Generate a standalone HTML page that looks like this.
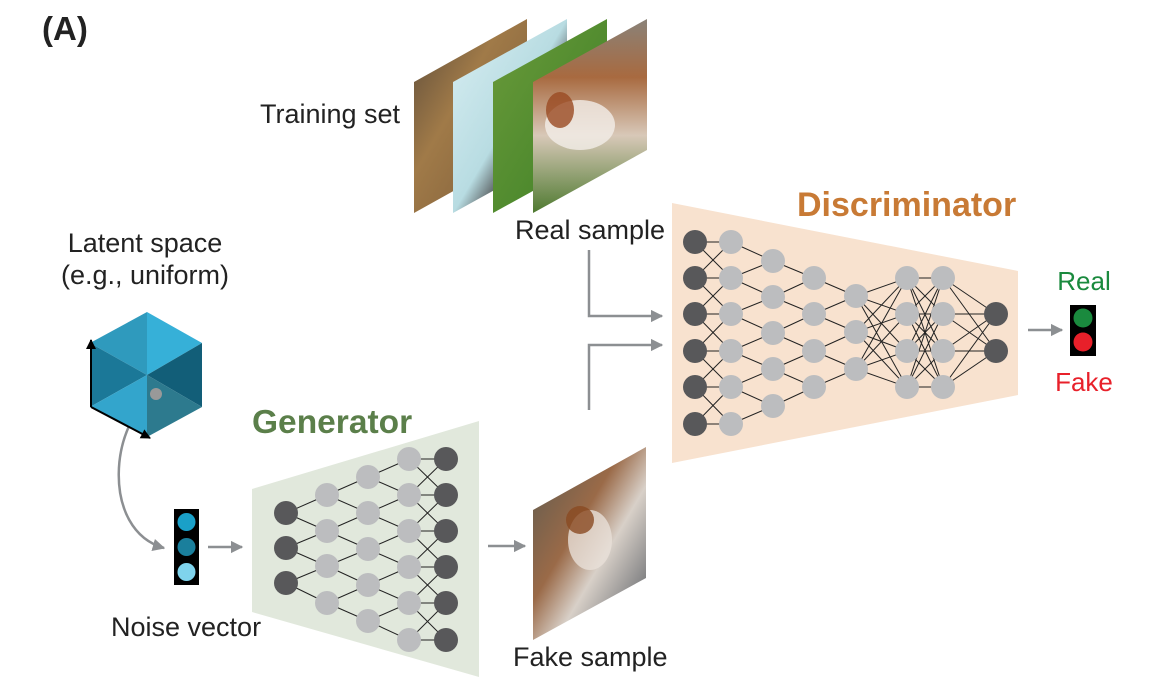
<!DOCTYPE html>
<html><head><meta charset="utf-8"><style>
html,body{margin:0;padding:0;background:#fff;width:1156px;height:689px;overflow:hidden}
svg{display:block}
text{font-family:"Liberation Sans",Arial,sans-serif}
</style></head><body>
<svg id="s" width="1156" height="689" viewBox="0 0 1156 689" xmlns="http://www.w3.org/2000/svg">
<defs>
<linearGradient id="g1" x1="0" y1="0" x2="1" y2="1"><stop offset="0" stop-color="#5a4a3a"/><stop offset="0.4" stop-color="#a07a48"/><stop offset="1" stop-color="#7a5a38"/></linearGradient>
<linearGradient id="g2" x1="0" y1="0" x2="1" y2="1"><stop offset="0" stop-color="#d8eef2"/><stop offset="0.5" stop-color="#b8dce2"/><stop offset="0.7" stop-color="#2a2020"/><stop offset="1" stop-color="#e8e4dc"/></linearGradient>
<linearGradient id="g3" x1="0" y1="0" x2="1" y2="1"><stop offset="0" stop-color="#6a9a3a"/><stop offset="0.6" stop-color="#4f8a2e"/><stop offset="1" stop-color="#3e7026"/></linearGradient>
<linearGradient id="g4" x1="0" y1="0" x2="0" y2="1"><stop offset="0" stop-color="#8a8278"/><stop offset="0.3" stop-color="#a86a40"/><stop offset="0.6" stop-color="#d8c8b8"/><stop offset="1" stop-color="#4e7a30"/></linearGradient>
<linearGradient id="g5" x1="0" y1="0" x2="1" y2="1"><stop offset="0" stop-color="#5a5a50"/><stop offset="0.4" stop-color="#9a6a48"/><stop offset="0.6" stop-color="#d8d0c8"/><stop offset="1" stop-color="#4a5058"/></linearGradient>
<marker id="ar" viewBox="0 0 10 10" refX="9" refY="5" markerWidth="5" markerHeight="5" orient="auto"><path d="M0,0 L10,5 L0,10 z" fill="#8c8f92"/></marker>
<marker id="ak" viewBox="0 0 10 10" refX="9" refY="5" markerWidth="5" markerHeight="5" orient="auto"><path d="M0,0 L10,5 L0,10 z" fill="#000"/></marker>
</defs>
<text x="42" y="40" font-size="33" font-weight="bold" fill="#222">(A)</text>
<text x="260" y="123" font-size="27" fill="#222">Training set</text>
<text x="515" y="239" font-size="27" fill="#222">Real sample</text>
<text x="145" y="252" font-size="27" fill="#222" text-anchor="middle">Latent space</text>
<text x="145" y="284" font-size="27" fill="#222" text-anchor="middle">(e.g., uniform)</text>
<text x="252" y="433" font-size="33.5" font-weight="bold" fill="#5b7f4a">Generator</text>
<text x="797" y="216" font-size="34" font-weight="bold" fill="#c87a35">Discriminator</text>
<text x="1084" y="290" font-size="26" fill="#1a8a3e" text-anchor="middle">Real</text>
<text x="1084" y="391" font-size="26" fill="#e8202a" text-anchor="middle">Fake</text>
<text x="111" y="636" font-size="27" fill="#222">Noise vector</text>
<text x="513" y="666" font-size="27" fill="#222">Fake sample</text>
<polygon points="414,82 527,19 527,150 414,213" fill="url(#g1)"/>
<polygon points="453,82 567,19 567,150 453,213" fill="url(#g2)"/>
<polygon points="493,82 607,19 607,150 493,213" fill="url(#g3)"/>
<polygon points="533,82 647,19 647,150 533,213" fill="url(#g4)"/>
<ellipse cx="580" cy="125" rx="35" ry="25" fill="#f2eee8" opacity="0.8"/>
<ellipse cx="560" cy="110" rx="14" ry="18" fill="#9a4a22" opacity="0.8"/>
<polygon points="533,510 646,447 646,578 533,640" fill="url(#g5)"/>
<ellipse cx="590" cy="540" rx="22" ry="30" fill="#e8e0d8" opacity="0.8"/>
<ellipse cx="580" cy="520" rx="14" ry="14" fill="#8a4a22" opacity="0.8"/>
<polygon points="672,203 1018,271 1018,395 672,463" fill="#f8e2cf"/>
<polygon points="252,489 479,421 479,677 252,612" fill="#e1e8dc"/>
<g id="net" stroke="#222" stroke-width="1"></g>
<g stroke="#8c8f92" stroke-width="2.5" fill="none">
<polyline points="589,250 589,316 662,316" marker-end="url(#ar)"/>
<polyline points="589,410 589,345 662,345" marker-end="url(#ar)"/>
<line x1="488" y1="546" x2="525" y2="546" marker-end="url(#ar)"/>
<line x1="208" y1="547" x2="242" y2="547" marker-end="url(#ar)"/>
<line x1="1028" y1="330" x2="1062" y2="330" marker-end="url(#ar)"/>
<path d="M156,394 C110,420 100,530 164,548" marker-end="url(#ar)"/>
</g>
<polygon points="147,312 90,343 147,375" fill="#2f9abd"/>
<polygon points="147,312 202,343 147,375" fill="#36b0d8"/>
<polygon points="90,343 90,407 147,375" fill="#1b7898"/>
<polygon points="202,343 202,407 147,375" fill="#125e78"/>
<polygon points="90,407 147,437 147,375" fill="#33a5cc"/>
<polygon points="202,407 147,437 147,375" fill="#2d7a8e"/>
<line x1="91" y1="407" x2="91" y2="340" stroke="#000" stroke-width="2" marker-end="url(#ak)"/>
<line x1="91" y1="407" x2="150" y2="438" stroke="#000" stroke-width="2" marker-end="url(#ak)"/>
<circle cx="156" cy="394" r="6" fill="#999"/>
<rect x="174" y="509" width="25" height="76" fill="#000"/>
<circle cx="186.5" cy="522" r="9" fill="#1aa0c8"/>
<circle cx="186.5" cy="547" r="9" fill="#1a7f9c"/>
<circle cx="186.5" cy="572" r="9" fill="#7fd3ec"/>
<rect x="1070" y="305" width="26" height="51" fill="#000"/>
<circle cx="1083" cy="318" r="9.5" fill="#1a8a3e"/>
<circle cx="1083" cy="342" r="9.5" fill="#e8202a"/>
</svg>
<script>
var net=document.getElementById('net'),NS='http://www.w3.org/2000/svg';
function L(a,b){var l=document.createElementNS(NS,'line');l.setAttribute('x1',a[0]);l.setAttribute('y1',a[1]);l.setAttribute('x2',b[0]);l.setAttribute('y2',b[1]);net.appendChild(l);}
function C(p,f){var c=document.createElementNS(NS,'circle');c.setAttribute('cx',p[0]);c.setAttribute('cy',p[1]);c.setAttribute('r',12);c.setAttribute('fill',f);c.setAttribute('stroke','none');net.appendChild(c);}
function col(x,ys){return ys.map(function(y){return [x,y];});}
function full(A,B){A.forEach(function(a){B.forEach(function(b){L(a,b);});});}
function zig(A,B){A.forEach(function(a){B.forEach(function(b){if(Math.abs(a[1]-b[1])<25)L(a,b);});});}
function near(A,B){A.forEach(function(a,i){B.forEach(function(b,j){if(Math.abs(i-j)<=1)L(a,b);});});}
var D=[col(695,[242,278,314,351,387,424]),col(731,[242,278,314,351,387,424]),col(773,[261,297,333,369,406]),col(814,[278,314,351,387]),col(856,[296,332,369]),col(907,[278,314,351,387]),col(943,[278,314,351,387]),col(996,[314,351])];
near(D[0],D[1]);zig(D[1],D[2]);zig(D[2],D[3]);zig(D[3],D[4]);full(D[4],D[5]);full(D[5],D[6]);full(D[6],D[7]);
var G=[col(286,[513,548,583]),col(327,[495,531,566,603]),col(368,[477,513,549,585,621]),col(409,[459,495,531,567,603,640]),col(446,[459,495,531,567,603,640])];
zig(G[0],G[1]);zig(G[1],G[2]);zig(G[2],G[3]);near(G[3],G[4]);
var dk='#58585a',lt='#bcbdbf';
D.forEach(function(c,i){c.forEach(function(p){C(p,(i==0||i==7)?dk:lt);});});
G.forEach(function(c,i){c.forEach(function(p){C(p,(i==0||i==4)?dk:lt);});});
</script>
</body></html>
